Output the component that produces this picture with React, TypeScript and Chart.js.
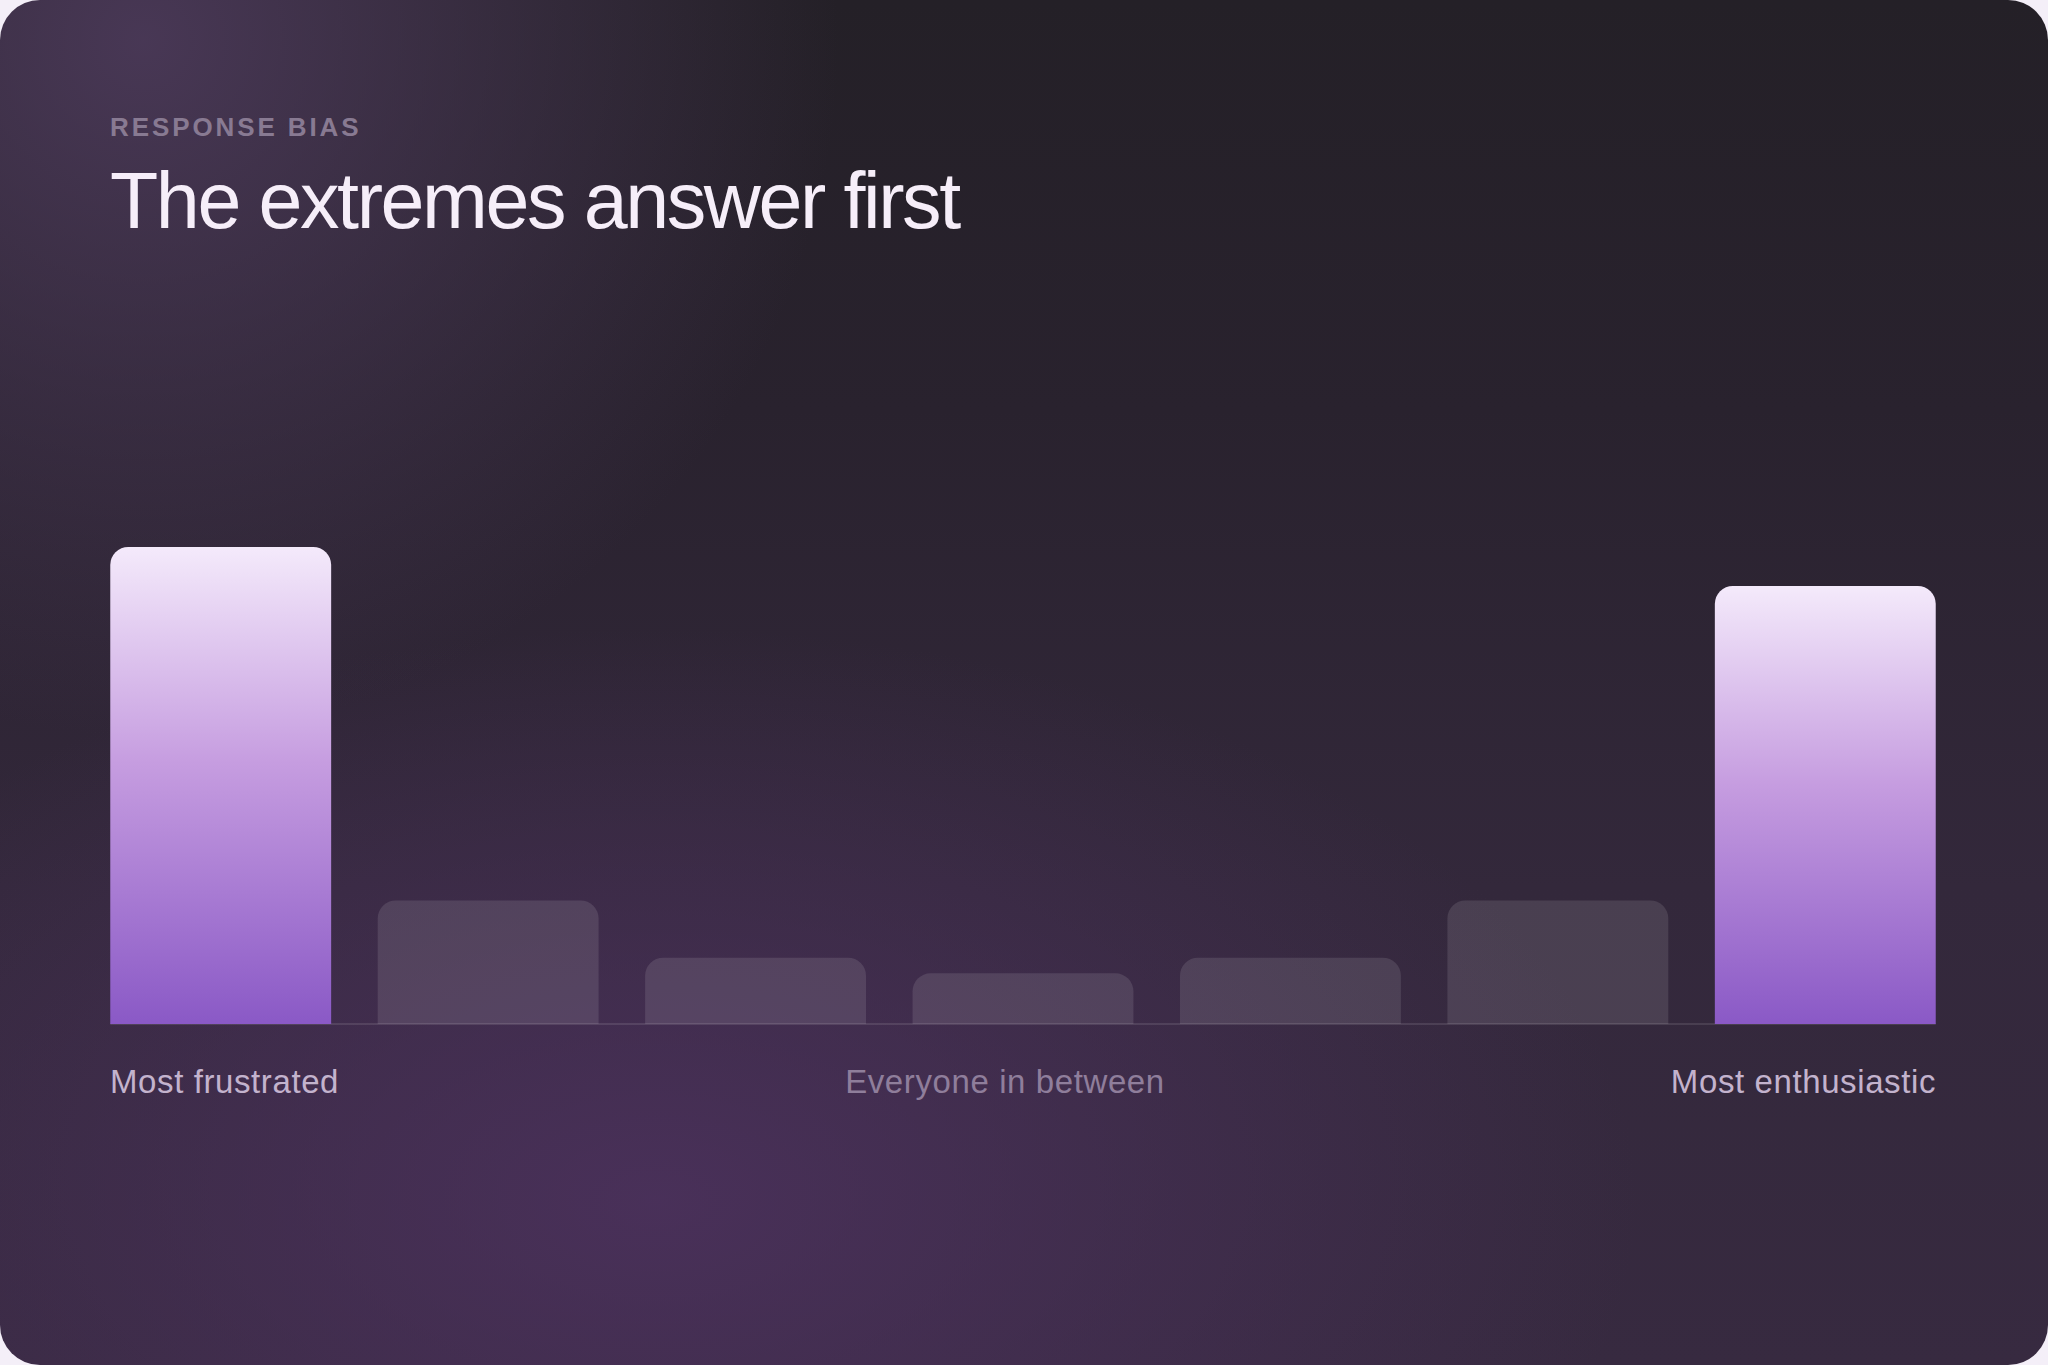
import { useEffect, useRef } from "react";
import { Chart, registerables } from "chart.js";

Chart.register(...registerables);

// share of responses by sentiment bucket, 1 = most frustrated, 7 = most enthusiastic
const buckets = ["1", "2", "3", "4", "5", "6", "7"];
const shares = [36.7, 9.5, 5.1, 3.9, 5.1, 9.5, 33.7];
const highlighted = [0, 6];
const axisLabels = ["Most frustrated", "Everyone in between", "Most enthusiastic"];

const FONT = '"Liberation Sans", Arial, Helvetica, sans-serif';

const baselinePlugin = {
  id: "baseline",
  beforeDatasetsDraw(chart: any) {
    const meta = chart.getDatasetMeta(0);
    if (!meta.data.length) return;
    const first = meta.data[0];
    const last = meta.data[meta.data.length - 1];
    const y = chart.scales.y.getPixelForValue(0);
    const ctx = chart.ctx;
    ctx.save();
    ctx.strokeStyle = "rgba(255,255,255,0.14)";
    ctx.lineWidth = 1.5;
    ctx.beginPath();
    ctx.moveTo(first.x - first.width / 2, y);
    ctx.lineTo(last.x + last.width / 2, y);
    ctx.stroke();
    ctx.restore();
  },
};

function BiasChart() {
  const canvasRef = useRef<HTMLCanvasElement | null>(null);
  const chartRef = useRef<Chart | null>(null);

  useEffect(() => {
    if (!canvasRef.current) return;
    if (chartRef.current) {
      chartRef.current.destroy();
      chartRef.current = null;
    }

    chartRef.current = new Chart(canvasRef.current, {
      type: "bar",
      data: {
        labels: buckets,
        datasets: [
          {
            data: shares,
            backgroundColor: (c: any) => {
              if (!highlighted.includes(c.dataIndex)) return "rgba(255,255,255,0.11)";
              const y = c.chart.scales?.y;
              if (!y || !c.chart.chartArea) return "#b58ad8";
              const top = y.getPixelForValue(c.raw);
              const bottom = y.getPixelForValue(0);
              if (!Number.isFinite(top) || !Number.isFinite(bottom) || top === bottom) return "#b58ad8";
              const g = c.chart.ctx.createLinearGradient(0, top, 0, bottom);
              g.addColorStop(0, "#f4eafb");
              g.addColorStop(0.45, "#c69de0");
              g.addColorStop(1, "#8a59c6");
              return g;
            },
            borderRadius: 18,
            borderSkipped: "start",
            barPercentage: 0.826,
            categoryPercentage: 1,
          },
        ],
      },
      options: {
        animation: false,
        responsive: true,
        maintainAspectRatio: false,
        layout: { padding: { top: 0, bottom: 4, left: 0, right: 0 } },
        plugins: {
          legend: { display: false },
          tooltip: { enabled: false },
        },
        scales: {
          x: { display: false, offset: true, grid: { display: false } },
          y: { display: false, min: 0, max: 48, grid: { display: false } },
        },
      },
      plugins: [baselinePlugin],
    });

    return () => {
      if (chartRef.current) {
        chartRef.current.destroy();
        chartRef.current = null;
      }
    };
  }, []);

  return (
    <div style={{ position: "absolute", left: 87, top: 400, width: 1872, height: 628 }}>
      <canvas ref={canvasRef} />
    </div>
  );
}

export default function App() {
  return (
    <div
      style={{
        position: "absolute",
        left: 0,
        top: 0,
        width: 2048,
        height: 1365,
        background: "#f4eff8",
        overflow: "hidden",
      }}
    >
      <div
        style={{
          position: "absolute",
          inset: 0,
          borderRadius: 40,
          overflow: "hidden",
          fontFamily: FONT,
          background: [
            "radial-gradient(circle at 7% 3%, rgba(76,58,90,0.9) 0%, rgba(76,58,90,0) 30%)",
            "radial-gradient(ellipse 48% 42% at 32% 88%, rgba(78,50,96,0.8) 0%, rgba(78,50,96,0) 100%)",
            "linear-gradient(180deg, #242027 0%, #29222e 30%, #33283b 65%, #372a40 100%)",
          ].join(", "),
        }}
      >
        <div
          style={{
            position: "absolute",
            left: 110,
            top: 114,
            fontSize: 26,
            lineHeight: 1,
            fontWeight: 600,
            letterSpacing: 2.9,
            color: "#887a92",
          }}
        >
          RESPONSE BIAS
        </div>
        <div
          style={{
            position: "absolute",
            left: 110,
            top: 161,
            fontSize: 79,
            lineHeight: 1,
            fontWeight: 400,
            letterSpacing: -2.4,
            color: "#f6eef9",
            whiteSpace: "nowrap",
          }}
        >
          The extremes answer first
        </div>
        <BiasChart />
        <div
          style={{
            position: "absolute",
            left: 110,
            top: 1065,
            width: 1826,
            display: "flex",
            justifyContent: "space-between",
            fontSize: 33,
            lineHeight: 1,
            letterSpacing: 0.6,
          }}
        >
          {axisLabels.map((t, i) => (
            <span key={t} style={{ color: i === 1 ? "#8f7e9b" : "#c3b3cd" }}>
              {t}
            </span>
          ))}
        </div>
      </div>
    </div>
  );
}
